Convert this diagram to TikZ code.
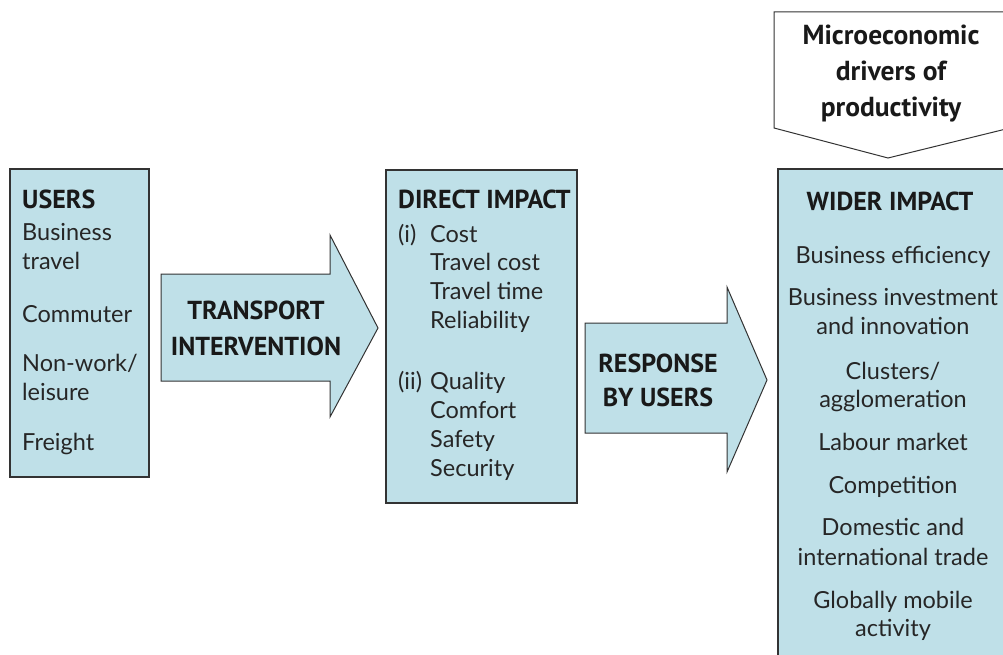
\documentclass[tikz,border=0pt]{standalone}
\usepackage{fontspec}
\setmainfont{Lato}
\newfontfamily\hdfont{PT Sans}
\definecolor{boxfill}{HTML}{BFE0E8}
\definecolor{boxline}{HTML}{333333}
\begin{document}
\begin{tikzpicture}[x=1pt,y=-1pt,
  panel/.style={draw=boxline,fill=boxfill,line width=1.6pt},
  bigarrow/.style={draw=boxline,fill=boxfill,line width=1pt,line join=miter},
  pent/.style={draw=boxline,fill=white,line width=1pt},
  body/.style={font=\fontsize{23.5}{29}\selectfont,text=black!85,inner sep=0pt,anchor=base west},
  bodyc/.style={body,anchor=base},
  head/.style={font=\hdfont\bfseries\fontsize{26}{30}\selectfont,text=black!90,inner sep=0pt,anchor=base west},
  headc/.style={head,anchor=base},
  pentext/.style={headc,font=\hdfont\bfseries\fontsize{27.5}{30}\selectfont}]
\useasboundingbox (0,0) rectangle (1003,655);
% boxes
\draw[panel] (10,169) rectangle (149,477);
\coordinate (usersbox) at (79,323);
\draw[panel] (386,170) rectangle (577,503);
\coordinate (directbox) at (481,336);
\draw[panel] (778,169) rectangle (1015,670);
\coordinate (widerbox) at (892,420);
% arrows
\draw[bigarrow] (161,274) -- (330,274) -- (330,235) -- (378,328) -- (330,417) -- (330,381) -- (161,381) -- cycle;
\draw[bigarrow] (585,323) -- (727,323) -- (727,287) -- (767,380) -- (727,472) -- (727,433) -- (585,433) -- cycle;
% pentagon
\draw[pent] (774,12) -- (1010,12) -- (1010,128) -- (888,158) -- (774,128) -- cycle;
% users text
\node[head] (uh) at (22,208) {USERS};
\foreach \n/\y/\t in {u1/240/Business, u2/269/travel, u3/322/Commuter, u4/371/{Non-work/}, u5/400/leisure, u6/450/Freight}
  \node[body] (\n) at (22,\y) {\t};
% transport
\node[headc] (t1) at (256,319) {TRANSPORT};
\node[headc] (t2) at (256,355) {INTERVENTION};
% direct
\node[head] (dh) at (398,208) {DIRECT IMPACT};
\node[body] (di) at (398,242) {(i)};
\node[body] (dii) at (398,389) {(ii)};
\foreach \n/\y/\t in {d1/242/Cost, d2/270/Travel cost, d3/299/Travel time, d4/328/Reliability, d5/389/Quality, d6/418/Comfort, d7/447/Safety, d8/476/Security}
  \node[body] (\n) at (430,\y) {\t};
% response
\node[headc] (r1) at (658,372) {RESPONSE};
\node[headc] (r2) at (658,406) {BY USERS};
% wider
\node[headc] (wh) at (890,210) {WIDER IMPACT};
\foreach \n/\y/\t in {w1/263/Business efficiency, w2/305/Business investment, w3/334/and innovation, w4/379/{Clusters/}, w5/407/agglomeration, w6/450/Labour market, w7/493/Competition, w8/535/Domestic and, w9/565/international trade, w10/608/Globally mobile, w11/636/activity}
  \node[bodyc] (\n) at (893,\y) {\t};
% pentagon text
\foreach \n/\y/\t in {p1/45/Microeconomic, p2/81/drivers of, p3/117/productivity}
  \node[pentext] (\n) at (891,\y) {\t};
\end{tikzpicture}
\end{document}
